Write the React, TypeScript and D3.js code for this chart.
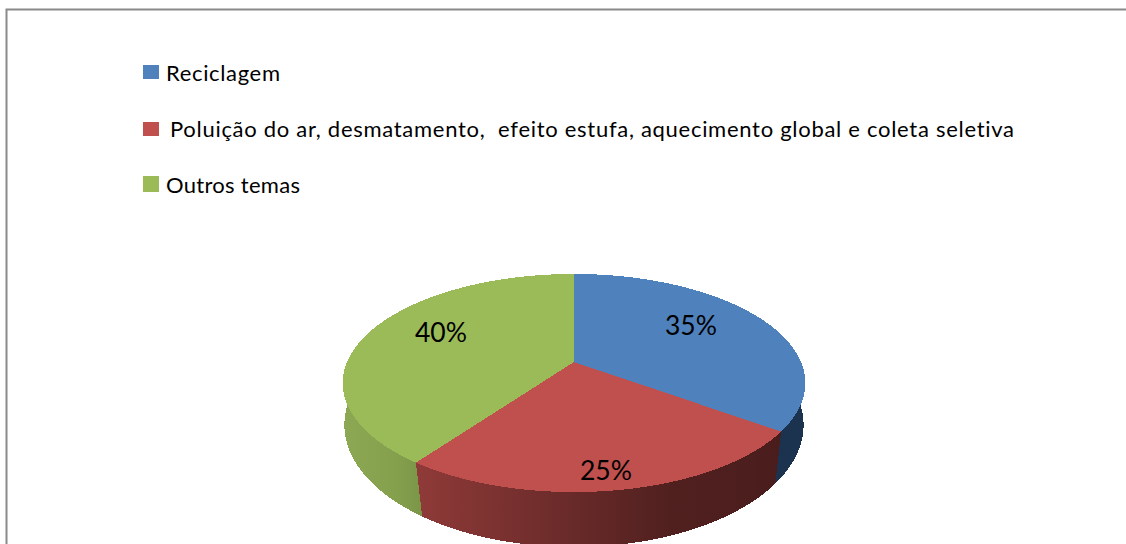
import React from "react";
import * as d3 from "d3";

const categories = ["Reciclagem", "Poluição do ar, desmatamento,  efeito estufa, aquecimento global e coleta seletiva", "Outros temas"];
const values = [35, 25, 40];
const colors = ["#4f81bd", "#c0504d", "#9bbb59"];
const wallStops = [["#1c3350", "#1c3350", "#1c3350"], ["#8f3a38", "#50201f", "#4a1d1c"], ["#8ca853", "#84a04d", "#7c9648"]];
const labels = ["35%", "25%", "40%"];

const W = 1126, H = 544;
const cx = 574;
const topFace = { A: 227, B: 105, p: 0.1927, y0: 362 };
const botFace = { A: 227, B: 119.3, p: 0.15, y0: 406.6 };
type Face = typeof topFace;
const project = (f: Face, t: number): [number, number] => {
  const u = Math.sin(t), v = Math.cos(t), k = 1 + f.p * v;
  return [cx + (f.A * u) / k, f.y0 - (f.B * v) / k];
};

const arcs = d3.pie<number>().sort(null)(values);
const sweep = (a: number, b: number) => d3.range(0, 121).map((i) => a + ((b - a) * i) / 120);
const line = d3.line();

const legendX = [166, 170, 166];
const legendW = [114, 844, 134];
const legendY = [81, 137, 193];
const swatchY = [65, 122, 176];
const swatchH = [14, 14, 16];
const labelPos: [number, number][] = [[691, 335], [606, 480], [441, 342]];
const wallX: [number, number][] = [[780, 806], [417, 780], [345, 420]];

export default function App() {
  return (
    <svg width={W} height={H} viewBox={`0 0 ${W} ${H}`} style={{ position: "fixed", left: 0, top: 0, display: "block", background: "#fff" }}>
      <defs>
        {wallStops.map((s, i) => (
          <linearGradient key={i} id={`wall${i}`} gradientUnits="userSpaceOnUse" x1={wallX[i][0]} x2={wallX[i][1]} y1={0} y2={0}>
            <stop offset="0" stopColor={s[0]} />
            <stop offset="0.7" stopColor={s[1]} />
            <stop offset="1" stopColor={s[2]} />
          </linearGradient>
        ))}
      </defs>
      <path d="M6.5 544V9.5H1126" fill="none" stroke="#8a8a8a" strokeWidth={2} />
      {categories.map((c, i) => (
        <g key={i}>
          <rect x={143} y={swatchY[i]} width={16} height={swatchH[i]} fill={colors[i]} />
          <text x={legendX[i]} y={legendY[i]} xmlSpace="preserve" textLength={legendW[i]} lengthAdjust="spacing"
            fontFamily="Lato, 'Open Sans', sans-serif" fontSize={22} fill="#000" style={{ fontVariantLigatures: "none" }}>{c}</text>
        </g>
      ))}
      <g shapeRendering="crispEdges">
        {arcs.map((a, i) => {
          const ts = sweep(a.startAngle, a.endAngle);
          const pts = [...ts.map((t) => project(topFace, t)), ...ts.slice().reverse().map((t) => project(botFace, t))];
          return <path key={i} d={line(pts) + "Z"} fill={`url(#wall${i})`} />;
        })}
        {arcs.map((a, i) => {
          const ts = sweep(a.startAngle, a.endAngle);
          const pts: [number, number][] = [[cx, topFace.y0], ...ts.map((t) => project(topFace, t))];
          return <path key={i} d={line(pts) + "Z"} fill={colors[i]} />;
        })}
      </g>
      {labels.map((l, i) => (
        <text key={i} x={labelPos[i][0]} y={labelPos[i][1]} textAnchor="middle" textLength={52} lengthAdjust="spacingAndGlyphs"
          fontFamily="Lato, 'Open Sans', sans-serif" fontSize={27} fill="#000">{l}</text>
      ))}
    </svg>
  );
}
